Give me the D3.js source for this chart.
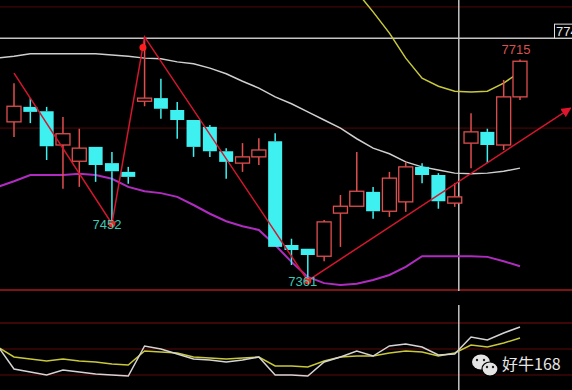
<!DOCTYPE html>
<html>
<head>
<meta charset="utf-8">
<script src="https://cdn.jsdelivr.net/npm/d3@7"></script>
<style>
body { margin: 0; background: #000; overflow: hidden; }
svg { display: block; }
</style>
</head>
<body>
<script>
// candles, one per bar
var openP  = [7615, 7639, 7632, 7578, 7552, 7575, 7549, 7535, 7648, 7653, 7634, 7618, 7607, 7568, 7549, 7559,
              7584, 7418, 7412, 7400, 7469, 7480, 7503, 7472, 7487, 7543, 7530, 7485, 7581, 7599, 7578, 7655];
var highP  = [7677, 7653, 7639, 7623, 7604, 7575, 7567, 7543, 7748, 7684, 7647, 7618, 7610, 7573, 7581, 7589,
              7597, 7428, 7412, 7458, 7498, 7567, 7511, 7535, 7551, 7549, 7533, 7517, 7629, 7604, 7682, 7715];
var lowP   = [7591, 7613, 7554, 7508, 7511, 7519, 7452, 7516, 7640, 7620, 7588, 7559, 7559, 7524, 7535, 7546,
              7415, 7386, 7361, 7392, 7415, 7480, 7460, 7463, 7471, 7517, 7476, 7479, 7541, 7549, 7570, 7650];
var closeP = [7640, 7631, 7576, 7596, 7573, 7546, 7536, 7527, 7653, 7636, 7618, 7575, 7568, 7551, 7559, 7570,
              7415, 7410, 7402, 7455, 7480, 7504, 7472, 7525, 7543, 7530, 7488, 7495, 7599, 7578, 7655, 7712];

// band lines: first value belongs to the bar before the first candle
var midLine   = [7717, 7720, 7724, 7724, 7724, 7724, 7724, 7722, 7720, 7717, 7716, 7711, 7708, 7701, 7692, 7680, 7669,
                 7655, 7644, 7631, 7618, 7605, 7588, 7573, 7564, 7551, 7543, 7538, 7533, 7532, 7533, 7536, 7541];
var upperLine = [null, null, null, null, null, null, null, null, null, null, null, null, null, null, null, null, null,
                 null, null, null, null, 7874, 7823, 7791, 7757, 7717, 7685, 7672, 7664, 7663, 7664, 7677, 7695];
var lowerLine = [7511, 7520, 7530, 7530, 7530, 7532, 7530, 7524, 7511, 7504, 7501, 7495, 7482, 7468, 7456, 7448, 7442,
                 7418, 7391, 7367, 7357, 7354, 7356, 7362, 7370, 7383, 7400, 7400, 7400, 7400, 7399, 7392, 7384];

// lower indicator panel
var indFast = [53.5, 26.9, 23.5, 20.0, 25.8, 23.5, 21.2, 20.0, 18.8, 53.5, 50.0, 44.2, 38.5, 37.3, 35.0, 37.3, 40.8,
               20.0, 20.0, 18.8, 35.0, 40.8, 47.7, 41.9, 53.5, 55.8, 52.3, 43.1, 44.2, 63.8, 60.4, 68.5, 75.4];
var indSlow = [52.3, 40.8, 38.5, 36.2, 38.5, 36.2, 35.0, 32.7, 31.5, 47.7, 46.5, 45.4, 40.8, 39.6, 38.5, 39.6, 40.8,
               30.4, 30.4, 29.2, 36.2, 40.8, 41.9, 41.9, 45.4, 47.7, 46.5, 41.9, 45.4, 54.6, 52.3, 56.9, 62.7];
var indLevels = [80, 50, 20];

// zigzag swing line and marked swing points
var zzBar   = [0, 6, 8, 18, 34.1];
var zzPrice = [7693, 7452, 7751, 7361, 7637];
var dotBar   = [6, 7.9, 18];
var dotPrice = [7452, 7734, 7361];
var swingLabels = [
    {bar: 6, price: 7452, text: "7452", below: true},
    {bar: 18, price: 7361, text: "7361", below: true},
    {bar: 31, price: 7715, text: "7715", below: false}
];

var gridPrices = [7799, 7605];
var crossBar = 27.25, crossPrice = 7749;

var width = 572, height = 390;
var upColor = "#e04e4e", downColor = "#3ef0f0";

var svg = d3.select("body")
    .append("svg")
    .attr("width", width)
    .attr("height", height)
    .style("background", "#000");

var xScale = d3.scaleLinear().domain([0, 31]).range([14, 520]);
var yScale = d3.scaleLinear().domain([7346, 7810]).range([290, 0]);
var yInd = d3.scaleLinear().domain([20, 80]).range([375, 323]);
var half = 7;

svg.append("clipPath").attr("id", "top")
    .append("rect").attr("x", 0).attr("y", 0).attr("width", width).attr("height", 290);

var defs = svg.append("defs");
defs.append("marker")
    .attr("id", "arrow")
    .attr("viewBox", "0 0 10 10")
    .attr("refX", 9).attr("refY", 5)
    .attr("markerWidth", 10).attr("markerHeight", 10)
    .attr("markerUnits", "userSpaceOnUse")
    .attr("orient", "auto")
    .append("path")
    .attr("d", "M0,0L10,5L0,10Z")
    .attr("fill", "#e0142c");

// grid lines
svg.selectAll(".grid")
    .data(gridPrices)
    .enter()
    .append("line")
    .attr("x1", 0).attr("x2", width)
    .attr("y1", function (d) { return yScale(d); })
    .attr("y2", function (d) { return yScale(d); })
    .attr("stroke", "#420606")
    .attr("stroke-width", 1.2);

svg.append("line")
    .attr("x1", 0).attr("x2", width)
    .attr("y1", yScale.range()[0]).attr("y2", yScale.range()[0])
    .attr("stroke", "#a81a1a")
    .attr("stroke-width", 1.5);

svg.selectAll(".level")
    .data(indLevels)
    .enter()
    .append("line")
    .attr("x1", 0).attr("x2", width)
    .attr("y1", function (d) { return yInd(d); })
    .attr("y2", function (d) { return yInd(d); })
    .attr("stroke", function (d, i) { return i == 0 ? "#7a0e0e" : "#5a0a0a"; })
    .attr("stroke-width", 1.2);

// crosshair
svg.append("line")
    .attr("x1", 0).attr("x2", width)
    .attr("y1", yScale(crossPrice)).attr("y2", yScale(crossPrice))
    .attr("stroke", "#c4c4c4").attr("stroke-width", 1.5);
svg.append("line")
    .attr("x1", xScale(crossBar)).attr("x2", xScale(crossBar))
    .attr("y1", 0).attr("y2", 291)
    .attr("stroke", "#c4c4c4").attr("stroke-width", 1.5);
svg.append("line")
    .attr("x1", xScale(crossBar)).attr("x2", xScale(crossBar))
    .attr("y1", 305).attr("y2", height)
    .attr("stroke", "#c4c4c4").attr("stroke-width", 1.5);

var topG = svg.append("g").attr("clip-path", "url(#top)");

// band lines
function bandLine(scale) {
    return d3.line()
        .defined(function (d) { return d != null; })
        .x(function (d, i) { return xScale(i - 1); })
        .y(function (d) { return scale(d); });
}
topG.append("path").datum(midLine)
    .attr("d", bandLine(yScale))
    .attr("fill", "none").attr("stroke", "#cfcfcf").attr("stroke-width", 1.5);
topG.append("path").datum(upperLine)
    .attr("d", bandLine(yScale))
    .attr("fill", "none").attr("stroke", "#c8c83c").attr("stroke-width", 1.5);
topG.append("path").datum(lowerLine)
    .attr("d", bandLine(yScale))
    .attr("fill", "none").attr("stroke", "#b02cc0").attr("stroke-width", 2);

// candles
var candles = openP.map(function (o, i) {
    return {i: i, o: o, h: highP[i], l: lowP[i], c: closeP[i], up: closeP[i] >= o};
});

var cg = topG.selectAll(".candle")
    .data(candles)
    .enter()
    .append("g")
    .attr("class", "candle");

cg.append("line")
    .attr("x1", function (d) { return xScale(d.i); })
    .attr("x2", function (d) { return xScale(d.i); })
    .attr("y1", function (d) { return yScale(d.h); })
    .attr("y2", function (d) { return yScale(Math.max(d.o, d.c)); })
    .attr("stroke", function (d) { return d.up ? upColor : downColor; })
    .attr("stroke-width", 1.5);
cg.append("line")
    .attr("x1", function (d) { return xScale(d.i); })
    .attr("x2", function (d) { return xScale(d.i); })
    .attr("y1", function (d) { return yScale(Math.min(d.o, d.c)); })
    .attr("y2", function (d) { return yScale(d.l); })
    .attr("stroke", function (d) { return d.up ? upColor : downColor; })
    .attr("stroke-width", 1.5);
cg.append("rect")
    .attr("x", function (d) { return xScale(d.i) - half; })
    .attr("width", half * 2)
    .attr("y", function (d) { return yScale(Math.max(d.o, d.c)); })
    .attr("height", function (d) { return Math.max(2, yScale(Math.min(d.o, d.c)) - yScale(Math.max(d.o, d.c))); })
    .attr("fill", function (d) { return d.up ? "#000" : downColor; })
    .attr("stroke", function (d) { return d.up ? upColor : "none"; })
    .attr("stroke-width", 1.3);

// zigzag
var zz = zzBar.map(function (b, i) { return [xScale(b), yScale(zzPrice[i])]; });
svg.append("path")
    .attr("d", d3.line()(zz))
    .attr("fill", "none")
    .attr("stroke", "#d4162e")
    .attr("stroke-width", 1.5)
    .attr("marker-end", "url(#arrow)");

svg.selectAll(".dot")
    .data(dotBar)
    .enter()
    .append("circle")
    .attr("cx", function (d) { return xScale(d); })
    .attr("cy", function (d, i) { return yScale(dotPrice[i]); })
    .attr("r", 3.5)
    .attr("fill", "#ff1e1e");

svg.selectAll(".swing")
    .data(swingLabels)
    .enter()
    .append("text")
    .attr("x", function (d) { return xScale(d.bar) - (d.below ? 5 : 4); })
    .attr("y", function (d) { return yScale(d.price) + (d.below ? 5 : -5); })
    .attr("text-anchor", "middle")
    .attr("font-family", "Liberation Sans, Arial, sans-serif")
    .attr("font-size", 13)
    .attr("fill", function (d) { return d.below ? "#3cc8b4" : "#d85050"; })
    .text(function (d) { return d.text; });

// price tag on the right edge
svg.append("rect")
    .attr("x", 554.5).attr("y", yScale(crossPrice) - 14)
    .attr("width", 30).attr("height", 14)
    .attr("fill", "#000").attr("stroke", "#e0e0e0").attr("stroke-width", 1);
svg.append("text")
    .attr("x", 556).attr("y", yScale(crossPrice) - 2)
    .attr("font-family", "Liberation Sans, Arial, sans-serif")
    .attr("font-size", 13)
    .attr("fill", "#e8e8e8")
    .text(crossPrice);

// lower indicator
function indLine() {
    return d3.line()
        .x(function (d, i) { return xScale(i - 1); })
        .y(function (d) { return yInd(d); });
}
svg.append("path").datum(indSlow)
    .attr("d", indLine())
    .attr("fill", "none").attr("stroke", "#c8c83a").attr("stroke-width", 1.5);
svg.append("path").datum(indFast)
    .attr("d", indLine())
    .attr("fill", "none").attr("stroke", "#d4d4d4").attr("stroke-width", 1.5);

// watermark
var wm = svg.append("g").attr("transform", "translate(485,365)");
wm.append("ellipse").attr("cx", -4).attr("cy", -3).attr("rx", 9).attr("ry", 7.5).attr("fill", "#e4e4e4");
wm.append("ellipse").attr("cx", 5).attr("cy", 4).attr("rx", 8).attr("ry", 7).attr("fill", "#e4e4e4")
    .attr("stroke", "#000").attr("stroke-width", 1.2);
wm.selectAll(".eye")
    .data([[-8, -5], [-1, -5], [2, 2], [8, 2]])
    .enter()
    .append("circle")
    .attr("cx", function (d) { return d[0]; })
    .attr("cy", function (d) { return d[1]; })
    .attr("r", 1.2)
    .attr("fill", "#222");
svg.append("text")
    .attr("x", 502).attr("y", 370)
    .attr("font-family", "Noto Sans CJK SC, sans-serif")
    .attr("font-size", 16)
    .attr("fill", "#e6e6e6")
    .text("好牛168");
</script>
</body>
</html>
